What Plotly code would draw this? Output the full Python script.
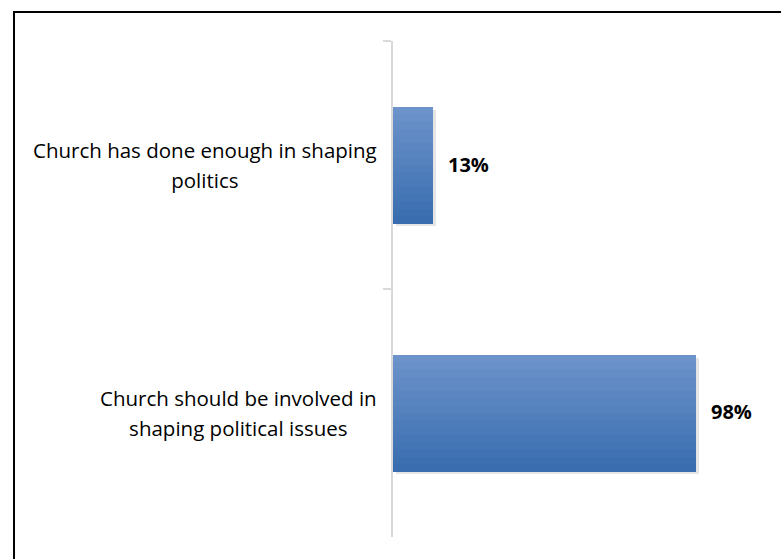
import plotly.graph_objects as go

# Survey responses (share of respondents agreeing)
categories = [
    "Church has done enough in shaping politics",
    "Church should be involved in shaping political issues",
]
label_lines = [
    "Church has done enough in shaping<br>politics",
    "Church should be involved in<br>shaping political issues",
]
values = [13, 98]

FONT = "Open Sans"
BAR_WIDTH = 0.47
N_STRIPS = 16
TOP_RGB = (108, 147, 202)
BOT_RGB = (58, 109, 175)


def mix(a, b, t):
    return "rgb({},{},{})".format(*[round(a[i] + (b[i] - a[i]) * t) for i in range(3)])


fig = go.Figure()

# soft drop shadow behind each bar
fig.add_trace(go.Bar(
    y=categories, x=values, orientation="h", base=1.0,
    width=BAR_WIDTH, offset=-BAR_WIDTH / 2 + 0.012,
    marker=dict(color="rgba(0,0,0,0.10)", line=dict(width=0)),
    hoverinfo="skip", showlegend=False,
))

# vertical gradient fill built from thin horizontal strips
# (axis is reversed, so increasing offset moves downward)
strip = BAR_WIDTH / N_STRIPS
for i in range(N_STRIPS):
    fig.add_trace(go.Bar(
        y=categories, x=values, orientation="h",
        width=strip * 1.05, offset=-BAR_WIDTH / 2 + i * strip,
        marker=dict(color=mix(TOP_RGB, BOT_RGB, i / (N_STRIPS - 1)), line=dict(width=0)),
        hoverinfo="skip", showlegend=False,
    ))

# value labels
for cat, v in zip(categories, values):
    fig.add_annotation(
        x=v, y=cat, text=f"<b>{v}%</b>", showarrow=False,
        xanchor="left", xshift=13, yshift=1,
        font=dict(family=FONT, size=20, color="#000000"),
    )

# category labels, right-aligned block with centred lines;
# the larger annotation size only widens the line spacing
for cat, txt in zip(categories, label_lines):
    fig.add_annotation(
        x=0, xref="paper", y=cat,
        text=f'<span style="font-size:20.5px">{txt}</span>',
        showarrow=False,
        xanchor="right", xshift=-14, align="center",
        font=dict(family=FONT, size=23, color="#000000"),
    )

# outer frame: left and top edges as one open path running off the canvas
fig.add_shape(
    type="path", xref="paper", yref="paper",
    path="M -1.2265,-0.2 L -1.2265,1.0585 L 1.6,1.0585",
    line=dict(color="#000000", width=2), fillcolor="rgba(0,0,0,0)",
)

fig.update_layout(
    width=781, height=559,
    margin=dict(l=393, r=79, t=41, b=22),
    paper_bgcolor="#ffffff", plot_bgcolor="#ffffff",
    barmode="overlay", bargap=0,
    showlegend=False,
    xaxis=dict(range=[0, 100], visible=False, showgrid=False, zeroline=False),
    yaxis=dict(
        type="category", categoryorder="array", categoryarray=categories,
        range=[1.5002, -0.5002],
        showline=True, linecolor="#d9d9d9", linewidth=2,
        ticks="outside", tickson="boundaries", ticklen=8,
        tickcolor="#d9d9d9", tickwidth=2,
        showticklabels=False, showgrid=False, zeroline=False,
    ),
)

fig.write_html("out.html")
